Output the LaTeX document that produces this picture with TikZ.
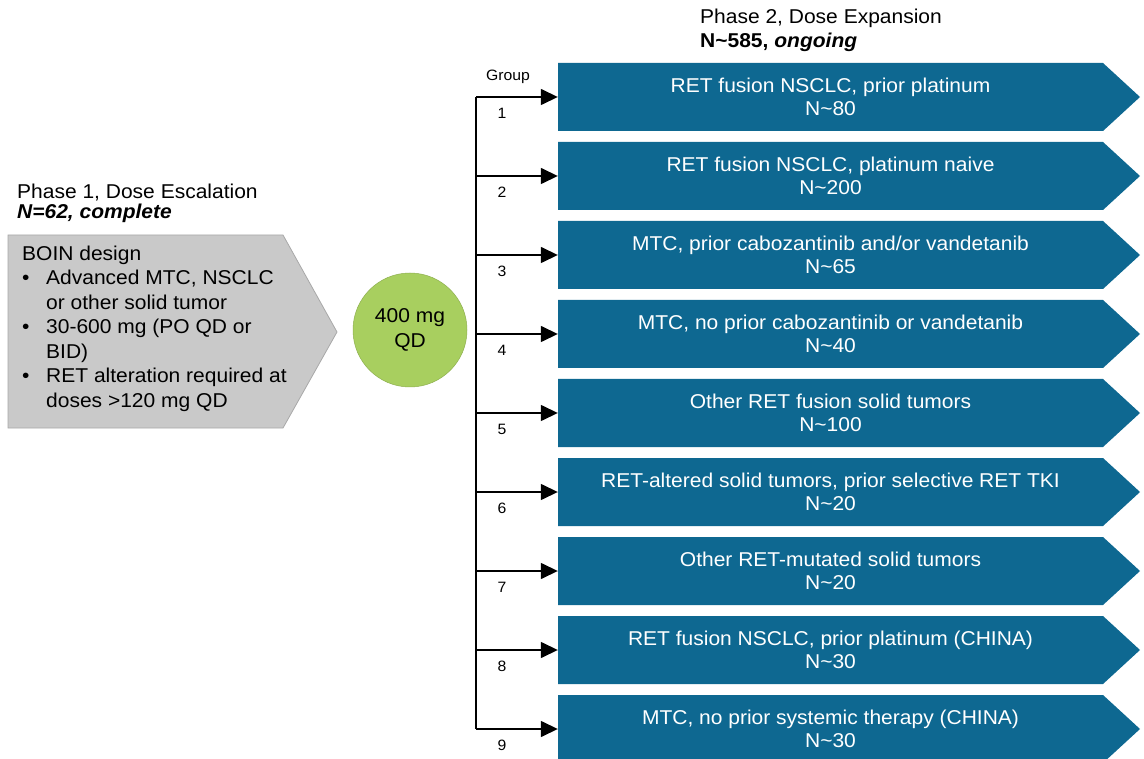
\documentclass[tikz,border=0pt]{standalone}
\usepackage{fontspec}
\setmainfont[FakeStretch=1.05]{Liberation Sans}
\usetikzlibrary{arrows.meta}
\definecolor{boxblue}{HTML}{0E6891}
\definecolor{greyfill}{HTML}{C9C9C9}
\definecolor{greyline}{HTML}{A8A8A8}
\definecolor{dosegreen}{HTML}{A8CF5F}
\tikzset{
  boxtext/.style={minimum width=545pt, minimum height=68pt, inner sep=0pt, text=white, align=center,
    font=\fontsize{20}{23}\selectfont},
  grp/.style={font=\fontsize{15}{16}\selectfont, inner sep=0pt},
  conn/.style={line width=1.5pt, -{Triangle[length=17pt,width=16pt]}},
  trunk/.style={line width=1.5pt},
  head/.style={anchor=west, inner sep=0pt, font=\fontsize{20}{22}\selectfont}
}
\begin{document}
\begin{tikzpicture}[x=1pt,y=-1pt]
\useasboundingbox (0,0) rectangle (1144,759);
% Phase 1
\node[head] (h1a) at (17,193) {Phase 1, Dose Escalation};
\node[head] (h1b) at (17,213) {\bfseries\itshape N=62, complete};
\filldraw[fill=greyfill, draw=greyline, line width=0.8pt] (8,235) -- (283,235) -- (337,332) -- (283,428) -- (8,428) -- cycle;
\node[anchor=north west, inner sep=0pt] (p1) at (22,243) {\fontsize{20}{24.5}\selectfont
\begin{tabular}{@{}p{24pt}@{}l@{}}
\multicolumn{2}{@{}l@{}}{BOIN design}\\
\textbullet & Advanced MTC, NSCLC\\
 & or other solid tumor\\
\textbullet & 30-600 mg (PO QD or\\
 & BID)\\
\textbullet & RET alteration required at\\
 & doses >120 mg QD
\end{tabular}};
% dose circle
\node[circle, fill=dosegreen, draw=dosegreen!85!black, line width=0.5pt, minimum size=114pt, inner sep=0pt, align=center,
  font=\fontsize{20}{25}\selectfont] (dose) at (410,330) {400 mg\\QD};
% Phase 2 heading
\node[head] (h2a) at (700,18) {Phase 2, Dose Expansion};
\node[head] (h2b) at (700,42) {\bfseries N\textasciitilde585, \itshape ongoing};
\node[grp] (grp) at (508,77) {Group};
% boxes
\foreach \i/\t/\n in {
  1/{RET fusion NSCLC, prior platinum}/80,
  2/{RET fusion NSCLC, platinum naive}/200,
  3/{MTC, prior cabozantinib and/or vandetanib}/65,
  4/{MTC, no prior cabozantinib or vandetanib}/40,
  5/{Other RET fusion solid tumors}/100,
  6/{RET-altered solid tumors, prior selective RET TKI}/20,
  7/{Other RET-mutated solid tumors}/20,
  8/{RET fusion NSCLC, prior platinum (CHINA)}/30,
  9/{MTC, no prior systemic therapy (CHINA)}/30}{
  \pgfmathsetmacro\yy{97+79*(\i-1)}
  \fill[boxblue] (558,{\yy-34}) -- (1103,{\yy-34}) -- (1140,\yy) -- (1103,{\yy+34}) -- (558,{\yy+34}) -- cycle;
  \node[boxtext] (g\i) at (830.5,\yy) {\t\\N\textasciitilde\n};
  \coordinate (t\i) at (476,\yy);
  \node[grp] (n\i) at (502,{\yy+16}) {\i};
  \draw[conn] (t\i) -- (g\i.west);
}
\draw[trunk] (t1) -- (t9);
\end{tikzpicture}
\end{document}
